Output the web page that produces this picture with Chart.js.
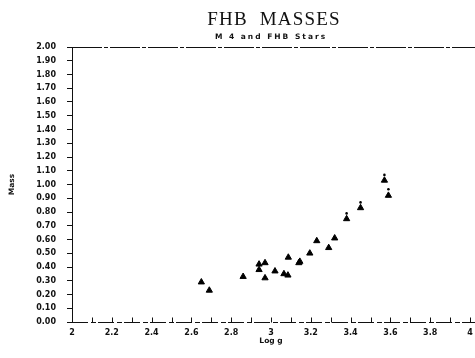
<!DOCTYPE html>
<html>
<head>
<meta charset="utf-8">
<script src="https://cdn.jsdelivr.net/npm/chart.js@4.4.0/dist/chart.umd.min.js"></script>
<style>
  body { margin: 0; background: #fff; }
  canvas { display: block; }
</style>
</head>
<body>
<canvas id="massChart" width="475" height="358"></canvas>
<script>
var chartTitle = 'FHB  MASSES';
var chartSubtitle = 'M 4 and FHB Stars';
var xTitle = 'Log g';
var yTitle = 'Mass';

// triangles: log g vs mass
var logG = [2.65, 2.69, 2.86, 2.94, 2.94, 2.97, 2.97, 3.02, 3.065, 3.085, 3.087, 3.14, 3.145, 3.195, 3.23, 3.29, 3.32, 3.38, 3.45, 3.57, 3.59];
var mass = [0.29, 0.23, 0.33, 0.42, 0.38, 0.43, 0.32, 0.37, 0.35, 0.34, 0.47, 0.43, 0.44, 0.50, 0.59, 0.54, 0.61, 0.75, 0.83, 1.03, 0.92];

// small dots printed above a few of the triangles
var dotLogG = [3.38, 3.45, 3.57, 3.59];
var dotMass = [0.79, 0.87, 1.07, 0.965];

var xMin = 2, xMax = 4, xStep = 0.1;
var yMin = 0, yMax = 2, yStep = 0.1;

var ink = '#111';

function toPoints(xs, ys) {
    return xs.map(function (x, i) { return { x: x, y: ys[i] }; });
}

// titles, frame lines and the upward x tick marks
var extras = {
    id: 'extras',
    afterDraw: function (chart) {
        var c = chart.ctx;
        var a = chart.chartArea;
        var xs = chart.scales.x;
        var mid = (a.left + a.right) / 2;
        var bottom = Math.round(a.bottom) + 0.5;
        var top = Math.round(a.top) + 0.5;
        c.save();
        c.strokeStyle = ink;
        c.lineWidth = 1;
        c.setLineDash([]);
        xs.ticks.forEach(function (t) {
            var px = Math.round(xs.getPixelForValue(t.value)) + 0.5;
            c.beginPath();
            c.moveTo(px, bottom);
            c.lineTo(px, bottom - 5);
            c.stroke();
        });
        // bottom axis, broken like the print
        c.setLineDash([16, 3, 5, 2]);
        c.beginPath();
        c.moveTo(a.left, bottom);
        c.lineTo(chart.width, bottom);
        c.stroke();
        // top frame line
        c.setLineDash([30, 2, 4, 2]);
        c.beginPath();
        c.moveTo(a.left, top);
        c.lineTo(chart.width, top);
        c.stroke();
        c.setLineDash([]);

        c.fillStyle = ink;
        c.textAlign = 'center';
        c.textBaseline = 'middle';
        c.font = '19px "Liberation Serif"';
        c.letterSpacing = '1.2px';
        c.fillText(chartTitle, mid + 3, 20);
        c.font = 'bold 7.5px "DejaVu Sans"';
        c.letterSpacing = '2px';
        c.fillText(chartSubtitle, mid, 37);
        c.letterSpacing = '0px';
        c.restore();
    }
};

var massChart = new Chart(document.getElementById('massChart').getContext('2d'), {
    type: 'scatter',
    data: {
        datasets: [{
            label: 'FHB stars',
            data: toPoints(logG, mass),
            pointStyle: 'triangle',
            pointRadius: 3.6,
            backgroundColor: '#000',
            borderColor: '#000',
            borderWidth: 1
        }, {
            label: 'dots',
            data: toPoints(dotLogG, dotMass),
            pointStyle: 'circle',
            pointRadius: 1.3,
            backgroundColor: '#000',
            borderWidth: 0
        }]
    },
    options: {
        responsive: false,
        animation: false,
        layout: { padding: { top: 47, right: 3, bottom: 0, left: 0 } },
        plugins: {
            legend: { display: false },
            tooltip: { enabled: false }
        },
        scales: {
            x: {
                type: 'linear',
                min: xMin,
                max: xMax,
                afterFit: function (s) { s.height = 36; s.paddingLeft = 0; s.paddingRight = 0; },
                grid: { display: true, drawOnChartArea: false, drawTicks: false, color: ink },
                border: { display: false },
                ticks: {
                    stepSize: xStep,
                    autoSkip: false,
                    maxRotation: 0,
                    padding: 6,
                    color: ink,
                    font: { family: '"DejaVu Sans"', size: 8, weight: 'bold' },
                    callback: function (v) {
                        var n = Math.round(v * 10);
                        return n % 2 ? '' : String(n / 10);
                    }
                },
                title: {
                    display: true,
                    text: xTitle,
                    color: ink,
                    padding: { top: 0, bottom: 12 },
                    font: { family: '"DejaVu Sans"', size: 7.5, weight: 'bold' }
                }
            },
            y: {
                type: 'linear',
                min: yMin,
                max: yMax,
                afterFit: function (s) { s.width = 72; s.paddingTop = 0; s.paddingBottom = 0; },
                grid: { display: true, drawOnChartArea: false, drawTicks: true, tickLength: 5, color: ink },
                border: { display: true, color: ink, width: 1 },
                ticks: {
                    stepSize: yStep,
                    autoSkip: false,
                    padding: 11,
                    color: ink,
                    font: { family: '"DejaVu Sans"', size: 8, weight: 'bold' },
                    callback: function (v) { return v.toFixed(2); }
                },
                title: {
                    display: true,
                    text: yTitle,
                    color: ink,
                    padding: { top: 8, bottom: 0 },
                    font: { family: '"DejaVu Sans"', size: 7.5, weight: 'bold' }
                }
            }
        }
    },
    plugins: [extras]
});
</script>
</body>
</html>
